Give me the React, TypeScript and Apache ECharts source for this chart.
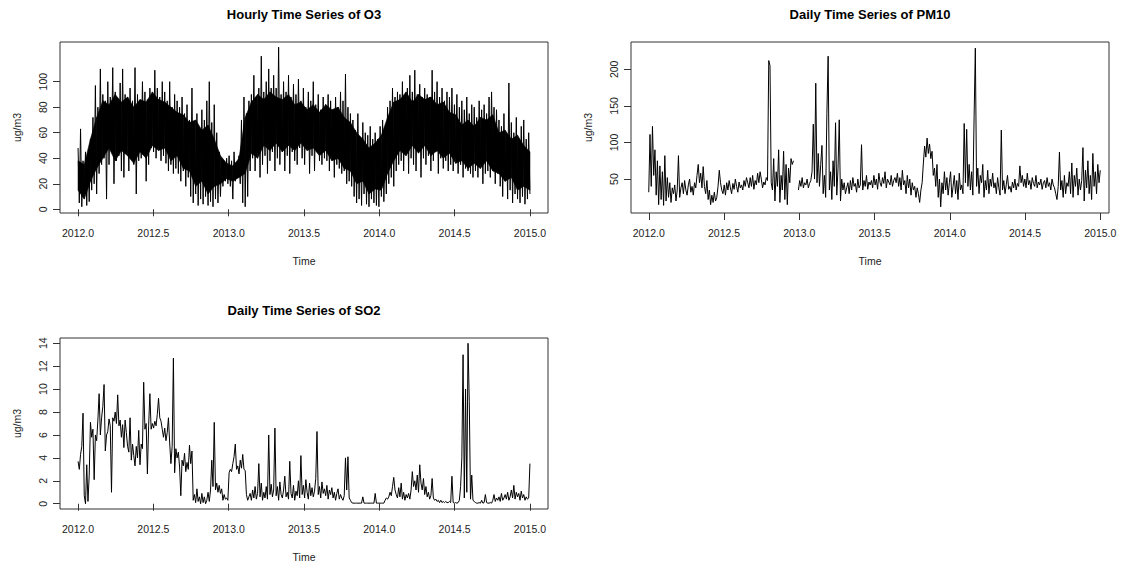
import React, { useEffect, useRef } from "react";
import * as echarts from "echarts";

// ---- data ----
const START_YEAR = 2012;
const STEP_YEARS = 3 / 365; // one value every 3 days
const CORE_STEP_YEARS = 15 / 365; // O3 dense-band envelope, every 15 days

const xTicks = [2012, 2012.5, 2013, 2013.5, 2014, 2014.5, 2015];
const o3Ticks = [0, 20, 40, 60, 80, 100];
const pm10Ticks = [50, 100, 150, 200];
const so2Ticks = [0, 2, 4, 6, 8, 10, 12, 14];

const titles = ["Hourly Time Series of O3", "Daily Time Series of PM10", "Daily Time Series of SO2"];
const xName = "Time";
const yName = "ug/m3";

// hourly O3: local highs / lows of the spiky band
const o3Values = [
  48, 5, 63, 2, 38, 12, 45, 3, 42, 6, 55, 15, 72, 20, 97, 12, 80, 28, 110, 35,
  90, 40, 85, 8, 100, 35, 88, 45, 111, 20, 92, 38, 86, 42, 99, 30, 110, 25, 90, 45,
  88, 30, 95, 42, 85, 35, 111, 12, 90, 38, 84, 40, 100, 45, 92, 22, 86, 35, 95, 48,
  90, 45, 109, 40, 95, 50, 88, 38, 100, 42, 92, 36, 85, 30, 100, 35, 80, 28, 90, 32,
  85, 28, 80, 22, 88, 30, 75, 18, 82, 25, 70, 10, 95, 5, 65, 12, 75, 3, 60, 8,
  78, 4, 70, 10, 85, 3, 100, 6, 68, 2, 82, 8, 60, 5, 45, 10, 40, 18, 38, 22,
  40, 20, 42, 18, 38, 8, 45, 22, 35, 25, 42, 20, 70, 5, 88, 2, 75, 10, 85, 30,
  90, 40, 105, 30, 88, 45, 95, 25, 120, 35, 92, 42, 100, 28, 110, 38, 95, 45, 105, 30,
  95, 40, 127, 35, 90, 45, 100, 30, 92, 42, 105, 28, 88, 45, 98, 38, 90, 35, 102, 48,
  85, 40, 95, 35, 80, 48, 92, 28, 85, 42, 100, 30, 82, 45, 90, 38, 78, 35, 88, 40,
  82, 38, 90, 30, 85, 42, 78, 25, 88, 35, 80, 32, 92, 28, 85, 30, 106, 20, 80, 22,
  75, 18, 70, 10, 62, 5, 75, 8, 55, 3, 68, 12, 60, 4, 58, 2, 65, 8, 55, 5,
  60, 3, 55, 2, 65, 10, 70, 6, 50, 12, 80, 20, 85, 25, 95, 18, 88, 30, 92, 35,
  90, 38, 100, 30, 88, 45, 95, 28, 105, 40, 92, 35, 109, 30, 90, 45, 98, 25, 88, 40,
  95, 35, 90, 42, 88, 30, 109, 38, 92, 45, 100, 28, 88, 40, 95, 32, 85, 38, 92, 30,
  88, 35, 95, 30, 82, 40, 90, 28, 80, 35, 85, 25, 78, 32, 88, 30, 75, 28, 82, 25,
  80, 30, 72, 25, 85, 35, 78, 20, 82, 28, 75, 30, 88, 25, 92, 32, 80, 20, 78, 28,
  70, 18, 65, 10, 75, 22, 60, 8, 99, 15, 68, 5, 60, 12, 72, 8, 55, 5, 65, 10,
  70, 4, 55, 8, 60, 12,
];

// hourly O3: lower / upper edge of the solid black core of the band
const o3CoreLow = [
  15, 8, 22, 32, 40, 48, 38, 46, 42, 36, 45, 40, 50, 46, 48, 38, 42, 32, 30, 18,
  22, 12, 18, 20, 24, 22, 25, 28, 44, 40, 50, 46, 52, 45, 50, 46, 52, 46, 48, 42,
  46, 38, 40, 32, 30, 20, 22, 12, 16, 15, 28, 38, 46, 42, 50, 44, 50, 42, 46, 40,
  44, 36, 38, 32, 36, 32, 38, 30, 28, 22, 25, 15, 18, 15,
];
const o3CoreHigh = [
  38, 35, 55, 72, 85, 82, 90, 84, 88, 80, 86, 84, 92, 86, 84, 80, 76, 74, 68, 70,
  62, 66, 55, 42, 36, 34, 40, 72, 84, 90, 86, 92, 88, 86, 90, 82, 84, 78, 82, 76,
  82, 78, 80, 72, 68, 60, 55, 48, 52, 58, 72, 84, 86, 92, 84, 90, 86, 88, 82, 84,
  76, 74, 66, 70, 65, 72, 70, 74, 60, 62, 55, 58, 50, 45,
];

// daily PM10
const pm10Values = [
  32, 111, 40, 122, 55, 90, 28, 75, 15, 68, 22, 60, 14, 82, 20, 52, 25, 45, 18, 38,
  30, 42, 20, 35, 82, 25, 38, 45, 30, 48, 35, 28, 42, 50, 32, 40, 28, 45, 38, 55,
  70, 45, 58, 38, 67, 40, 30, 48, 22, 35, 15, 28, 18, 32, 20, 25, 40, 62, 45, 35,
  30, 42, 28, 45, 35, 48, 38, 30, 44, 36, 50, 40, 32, 46, 38, 42, 35, 48, 40, 52,
  45, 38, 52, 40, 55, 36, 48, 42, 58, 45, 60, 50, 38, 46, 42, 52, 48, 212, 205, 45,
  35, 78, 20, 60, 40, 90, 18, 55, 35, 88, 22, 70, 15, 65, 45, 78, 70, 75, null, null,
  null, 35, 48, 40, 52, 38, 45, 42, 50, 38, 44, 48, 60, 125, 50, 181, 45, 85, 40, 70,
  96, 30, 55, 25, 140, 218, 35, 60, 22, 75, 40, 127, 28, 65, 131, 20, 50, 35, 45, 30,
  38, 45, 30, 48, 35, 52, 40, 44, 32, 50, 38, 42, 97, 35, 48, 40, 55, 36, 46, 42,
  48, 38, 55, 42, 50, 36, 58, 45, 40, 52, 44, 60, 38, 50, 46, 42, 55, 40, 48, 52,
  45, 58, 40, 52, 35, 62, 42, 48, 30, 55, 38, 50, 28, 45, 35, 40, 25, 38, 30, 18,
  35, 45, 72, 95, 80, 106, 85, 98, 78, 88, 55, 65, 40, 70, 25, 50, 12, 45, 30, 60,
  35, 52, 28, 45, 60, 25, 40, 55, 30, 48, 22, 58, 35, 42, 30, 126, 45, 118, 40, 70,
  35, 60, 28, 135, 229, 40, 65, 30, 55, 45, 70, 25, 48, 35, 62, 30, 50, 40, 58, 38,
  45, 30, 52, 38, 28, 117, 35, 48, 30, 42, 55, 36, 40, 32, 46, 38, 50, 35, 44, 40,
  68, 45, 55, 40, 50, 38, 58, 42, 48, 36, 52, 44, 40, 55, 38, 46, 42, 50, 36, 45,
  48, 38, 52, 40, 45, 35, 50, 42, 38, 30, 22, 40, 87, 35, 48, 25, 55, 30, 45, 40,
  60, 30, 72, 25, 55, 40, 65, 28, 50, 35, 48, 93, 20, 62, 38, 75, 30, 55, 22, 85,
  40, 60, 30, 70, 45, 62,
];

// daily SO2
const so2Values = [
  3.7, 3.0, 4.3, 5.0, 7.9, 0.7, 0.0, 3.4, 0.2, 2.5, 7.1, 5.8, 6.5, 2.1, 6.0, 5.5, 7.3, 9.6, 6.0, 7.5,
  8.5, 10.4, 4.6, 6.0, 6.3, 7.4, 6.8, 1.0, 7.5, 7.2, 8.0, 7.0, 9.5, 6.8, 7.3, 5.8, 6.9, 4.9, 7.3, 6.2,
  5.0, 4.5, 7.5, 3.8, 5.2, 4.2, 3.3, 5.0, 4.0, 6.4, 3.4, 5.2, 4.8, 10.6, 6.5, 7.0, 2.6, 6.8, 9.6, 6.5,
  7.0, 6.6, 7.2, 6.8, 7.8, 9.2, 7.5, 7.2, 6.5, 5.8, 6.6, 5.5, 6.2, 7.5, 5.3, 3.5, 5.0, 12.7, 2.7, 4.8,
  4.0, 4.5, 3.2, 0.7, 3.8, 3.3, 4.4, 2.8, 3.6, 3.0, 5.1, 3.5, 4.6, 0.3, 0.8, 0.1, 1.3, 0.2, 0.6, 0.0,
  0.9, 0.1, 0.6, 0.0, 0.3, 1.0, 0.2, 1.2, 3.8, 1.5, 7.1, 1.2, 1.8, 1.0, 1.6, 0.9, 1.3, 0.3, 0.8, 0.4,
  0.5, 0.3, 2.7, 3.0, 2.8, 3.5, 4.1, 5.2, 3.0, 3.3, 2.6, 3.8, 3.1, 4.3, 3.0, 2.9, 0.8, 0.3, 0.6, 0.9,
  0.3, 1.2, 0.5, 1.5, 0.4, 0.9, 3.5, 0.6, 1.8, 0.3, 1.0, 0.5, 1.5, 0.4, 6.0, 0.8, 1.7, 0.6, 1.2, 6.6,
  0.7, 1.5, 0.3, 1.9, 0.8, 0.5, 1.2, 2.4, 0.6, 1.0, 0.4, 3.7, 0.9, 0.5, 1.6, 0.3, 1.1, 0.7, 2.0, 0.5,
  4.2, 0.8, 1.6, 0.5, 2.1, 1.0, 0.4, 1.8, 0.7, 1.4, 0.6, 1.1, 2.2, 6.3, 0.8, 1.5, 0.5, 1.9, 0.9, 1.3,
  0.7, 1.6, 0.4, 1.2, 0.8, 1.4, 0.5, 1.0, 0.3, 0.9, 1.3, 0.4, 0.8, 0.5, 0.3, 0.7, 4.0, 1.2, 4.1, 0.5,
  0.3, 0.1, 0.05, 0.05, 0.05, 0.05, 0.05, 0.05, 0.05, 0.05, 0.6, 0.05, 0.05, 0.05, 0.05, 0.05, 0.05, 0.05, 0.05, 0.05,
  0.9, 0.05, 0.05, 0.05, 0.05, 0.05, 0.05, 0.05, 0.3, 0.5, 0.4, 0.6, 1.0, 0.7, 1.5, 2.3, 1.2, 0.8, 0.5, 1.4,
  0.6, 1.8, 0.4, 1.0, 0.3, 0.8, 0.5, 0.9, 0.4, 1.2, 2.8, 1.5, 2.0, 1.2, 2.5, 1.0, 3.4, 1.8, 1.2, 2.2,
  0.8, 1.5, 0.6, 1.0, 0.4, 0.7, 2.2, 0.5, 0.3, 0.4, 0.2, 0.3, 0.1, 0.3, 0.1, 0.2, 0.1, 0.2, 0.1, 0.1,
  0.2, 0.1, 2.4, 0.1, 0.05, 0.1, 0.05, 0.1, 0.3, 1.5, 4.0, 13.0, 0.5, 10.0, 1.0, 14.0, 8.9, 0.4, 2.5, 0.3,
  0.2, 0.1, 0.05, 0.05, 0.1, 0.05, 0.3, 0.05, 0.1, 0.8, 0.1, 0.05, 0.05, 0.1, 0.05, 0.3, 0.8, 0.2, 0.5, 0.3,
  0.6, 0.2, 0.9, 0.3, 0.5, 0.8, 0.4, 1.0, 0.3, 0.6, 1.2, 0.5, 1.6, 0.4, 1.0, 0.6, 0.9, 0.3, 1.1, 0.5,
  0.8, 0.3, 0.6, 0.4, 0.5, 3.5,
];

// ---- layout ----
const FONT = "'Liberation Sans', Arial, Helvetica, sans-serif";
const panels = [
  { values: o3Values, yTicks: o3Ticks, left: 60, top: 42, width: 488, height: 171, xMin: 2011.88, xMax: 2015.12, yMin: -2.9, yMax: 131.1 },
  { values: pm10Values, yTicks: pm10Ticks, left: 631, top: 42, width: 478, height: 171, xMin: 2011.882, xMax: 2015.058, yMin: 3.6, yMax: 237.4 },
  { values: so2Values, yTicks: so2Ticks, left: 60, top: 338, width: 488, height: 171, xMin: 2011.88, xMax: 2015.12, yMin: -0.46, yMax: 14.46 },
];

const toPairs = (vals: (number | null)[], step: number) =>
  vals.map((v, i) => [START_YEAR + i * step, v === null ? "-" : v]);

// band segments: [t0, low0, high0, t1, low1, high1]
const coreSegments = o3CoreLow.slice(0, -1).map((lo, i) => [
  START_YEAR + i * CORE_STEP_YEARS,
  lo,
  o3CoreHigh[i],
  START_YEAR + (i + 1) * CORE_STEP_YEARS,
  o3CoreLow[i + 1],
  o3CoreHigh[i + 1],
]);

export default function App() {
  const ref = useRef<HTMLDivElement>(null);

  useEffect(() => {
    if (!ref.current) return;
    const chart = echarts.init(ref.current, undefined, { renderer: "svg" });

    const grids = panels.map((p) => ({
      left: p.left,
      top: p.top,
      width: p.width,
      height: p.height,
      show: true,
      borderColor: "#333",
      borderWidth: 1,
      backgroundColor: "transparent",
      containLabel: false,
    }));

    const xAxes = panels.map((p, i) => ({
      type: "value",
      gridIndex: i,
      min: p.xMin,
      max: p.xMax,
      axisLine: { show: false },
      splitLine: { show: false },
      axisTick: { show: true, length: 7, lineStyle: { color: "#333", width: 1 }, customValues: xTicks },
      axisLabel: {
        customValues: xTicks,
        formatter: (v: number) => v.toFixed(1),
        fontSize: 10.5,
        color: "#222",
        fontFamily: FONT,
        margin: 14,
      },
    }));

    const yAxes = panels.map((p, i) => ({
      type: "value",
      gridIndex: i,
      min: p.yMin,
      max: p.yMax,
      axisLine: { show: false },
      splitLine: { show: false },
      axisTick: { show: true, length: 7, lineStyle: { color: "#333", width: 1 }, customValues: p.yTicks },
      axisLabel: {
        customValues: p.yTicks,
        formatter: (v: number) => String(v),
        rotate: 90,
        fontSize: 10.5,
        color: "#222",
        fontFamily: FONT,
        margin: 12,
      },
    }));

    const series: any[] = [];
    // O3 solid core of the band
    series.push({
      type: "custom",
      xAxisIndex: 0,
      yAxisIndex: 0,
      silent: true,
      data: coreSegments,
      encode: { x: [0, 3], y: [1, 2, 4, 5] },
      renderItem: (_params: any, api: any) => {
        const a = api.coord([api.value(0), api.value(1)]);
        const b = api.coord([api.value(3), api.value(4)]);
        const c = api.coord([api.value(3), api.value(5)]);
        const d = api.coord([api.value(0), api.value(2)]);
        return {
          type: "polygon",
          shape: { points: [a, b, c, d] },
          style: { fill: "#000", stroke: "#000", lineWidth: 0.6 },
          silent: true,
        };
      },
    });

    panels.forEach((p, i) => {
      series.push({
        type: "line",
        xAxisIndex: i,
        yAxisIndex: i,
        data: toPairs(p.values, STEP_YEARS),
        showSymbol: false,
        symbol: "none",
        silent: true,
        connectNulls: false,
        lineStyle: { color: "#000", width: 1 },
        emphasis: { disabled: true },
      });
    });

    const graphics: any[] = [];
    panels.forEach((p, i) => {
      const cx = p.left + p.width / 2;
      const cy = p.top + p.height / 2;
      graphics.push({
        type: "text",
        x: cx,
        y: p.top - 28,
        style: { text: titles[i], font: `bold 13px ${FONT}`, fill: "#000", textAlign: "center", textVerticalAlign: "middle" },
      });
      graphics.push({
        type: "text",
        x: cx,
        y: p.top + p.height + 48,
        style: { text: xName, font: `10.5px ${FONT}`, fill: "#222", textAlign: "center", textVerticalAlign: "middle" },
      });
      graphics.push({
        type: "text",
        x: p.left - 43,
        y: cy,
        rotation: Math.PI / 2,
        style: { text: yName, font: `10.5px ${FONT}`, fill: "#222", textAlign: "center", textVerticalAlign: "middle" },
      });
    });

    chart.setOption({
      animation: false,
      backgroundColor: "#fff",
      grid: grids,
      xAxis: xAxes,
      yAxis: yAxes,
      series,
      graphic: graphics,
    });

    return () => chart.dispose();
  }, []);

  return (
    <div
      ref={ref}
      style={{ position: "absolute", left: 0, top: 0, width: 1123, height: 565, background: "#fff" }}
    />
  );
}
